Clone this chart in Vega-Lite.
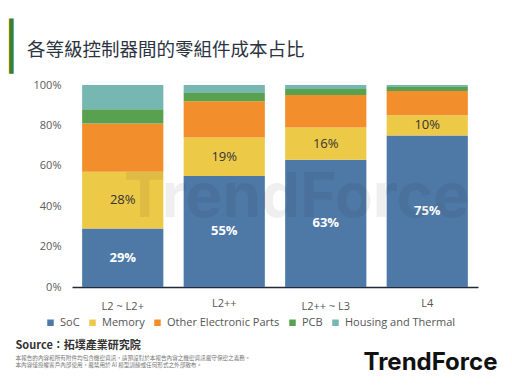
{
  "$schema": "https://vega.github.io/schema/vega-lite/v6.json",
  "width": 406,
  "height": 202,
  "autosize": {"type": "none"},
  "padding": {"left": 72, "top": 85, "right": 34, "bottom": 100},
  "background": "white",
  "title": {
    "text": "各等級控制器間的零組件成本占比",
    "anchor": "start",
    "frame": "group",
    "dx": -45,
    "offset": -35,
    "font": "Noto Sans CJK TC",
    "fontSize": 18.5,
    "fontWeight": "normal",
    "color": "#2b3340"
  },
  "config": {
    "view": {"stroke": null},
    "axis": {"grid": false, "ticks": false}
  },
  "layer": [
    {
      "data": {
        "values": [
          {"cat": "L2 ~ L2+", "part": "SoC", "value": 0.29, "order": 1},
          {"cat": "L2 ~ L2+", "part": "Memory", "value": 0.28, "order": 2},
          {"cat": "L2 ~ L2+", "part": "Other Electronic Parts", "value": 0.24, "order": 3},
          {"cat": "L2 ~ L2+", "part": "PCB", "value": 0.07, "order": 4},
          {"cat": "L2 ~ L2+", "part": "Housing and Thermal", "value": 0.12, "order": 5},
          {"cat": "L2++", "part": "SoC", "value": 0.55, "order": 1},
          {"cat": "L2++", "part": "Memory", "value": 0.19, "order": 2},
          {"cat": "L2++", "part": "Other Electronic Parts", "value": 0.18, "order": 3},
          {"cat": "L2++", "part": "PCB", "value": 0.04, "order": 4},
          {"cat": "L2++", "part": "Housing and Thermal", "value": 0.04, "order": 5},
          {"cat": "L2++ ~ L3", "part": "SoC", "value": 0.63, "order": 1},
          {"cat": "L2++ ~ L3", "part": "Memory", "value": 0.16, "order": 2},
          {"cat": "L2++ ~ L3", "part": "Other Electronic Parts", "value": 0.16, "order": 3},
          {"cat": "L2++ ~ L3", "part": "PCB", "value": 0.03, "order": 4},
          {"cat": "L2++ ~ L3", "part": "Housing and Thermal", "value": 0.02, "order": 5},
          {"cat": "L4", "part": "SoC", "value": 0.75, "order": 1},
          {"cat": "L4", "part": "Memory", "value": 0.10, "order": 2},
          {"cat": "L4", "part": "Other Electronic Parts", "value": 0.12, "order": 3},
          {"cat": "L4", "part": "PCB", "value": 0.02, "order": 4},
          {"cat": "L4", "part": "Housing and Thermal", "value": 0.01, "order": 5}
        ]
      },
      "layer": [
        {
          "mark": {"type": "bar"},
          "encoding": {
            "x": {
              "field": "cat", "type": "nominal",
              "sort": ["L2 ~ L2+", "L2++", "L2++ ~ L3", "L4"],
              "scale": {"paddingInner": 0.2, "paddingOuter": 0.1},
              "axis": {
                "orient": "bottom",
                "labelAngle": 0,
                "labelFont": "Open Sans",
                "labelFontSize": 11,
                "labelColor": "#555555",
                "labelPadding": {"condition": {"test": "indexof(datum.label, '~') >= 0", "value": 13}, "value": 10},
                "domainColor": "#1f2a3a",
                "domainWidth": 1.5,
                "title": "Source：拓墣產業研究院",
                "titleFont": "Noto Sans CJK TC",
                "titleFontSize": 11,
                "titleFontWeight": "bold",
                "titleColor": "#333333",
                "titleX": -57,
                "titleY": 58,
                "titleAlign": "left",
                "titleBaseline": "middle"
              }
            },
            "y": {
              "field": "value", "type": "quantitative", "stack": "zero",
              "scale": {"domain": [0, 1], "nice": false},
              "axis": {
                "orient": "left",
                "format": ".0%",
                "values": [0, 0.2, 0.4, 0.6, 0.8, 1],
                "domain": false,
                "labelFont": "Open Sans",
                "labelFontSize": 11,
                "labelColor": "#5a5a5a",
                "labelPadding": 11,
                "title": "▏",
                "titleFont": "DejaVu Sans",
                "titleFontSize": 46.5,
                "titleColor": "#3f7f25",
                "titleAngle": 0,
                "titleAlign": "left",
                "titleBaseline": "alphabetic",
                "titleX": -63,
                "titleY": -23.5
              }
            },
            "color": {
              "field": "part", "type": "nominal",
              "scale": {
                "domain": ["SoC", "Memory", "Other Electronic Parts", "PCB", "Housing and Thermal"],
                "range": ["#4e79a7", "#edc948", "#f28e2b", "#59a14f", "#76b7b2"]
              },
              "legend": {
                "orient": "none",
                "legendX": -27,
                "legendY": 232,
                "direction": "horizontal",
                "title": null,
                "symbolType": "square",
                "symbolSize": 42,
                "symbolStrokeWidth": 0,
                "labelFont": "Open Sans",
                "labelFontSize": 11,
                "labelColor": "#555555",
                "labelOffset": 4,
                "columnPadding": 7
              }
            },
            "order": {"field": "order", "type": "quantitative"}
          }
        },
        {
          "mark": {"type": "text", "font": "Open Sans", "fontSize": 13, "fontWeight": "bold", "color": "white", "baseline": "middle"},
          "encoding": {
            "x": {"field": "cat", "type": "nominal", "sort": ["L2 ~ L2+", "L2++", "L2++ ~ L3", "L4"]},
            "y": {"field": "value", "type": "quantitative", "stack": "zero", "bandPosition": 0.5},
            "detail": {"field": "part"},
            "order": {"field": "order", "type": "quantitative"},
            "text": {"condition": {"test": "datum.part === 'SoC'", "field": "value", "format": ".0%"}, "value": ""}
          }
        },
        {
          "mark": {"type": "text", "font": "Open Sans", "fontSize": 13, "fontWeight": "normal", "color": "#333333", "baseline": "middle"},
          "encoding": {
            "x": {"field": "cat", "type": "nominal", "sort": ["L2 ~ L2+", "L2++", "L2++ ~ L3", "L4"]},
            "y": {"field": "value", "type": "quantitative", "stack": "zero", "bandPosition": 0.5},
            "detail": {"field": "part"},
            "order": {"field": "order", "type": "quantitative"},
            "text": {"condition": {"test": "datum.part === 'Memory'", "field": "value", "format": ".0%"}, "value": ""}
          }
        }
      ]
    },
    {
      "data": {"values": [{"wx": 0.554, "wy": 0.347, "t": "TrendForce"}]},
      "mark": {"type": "text", "font": "Inter", "fontSize": 62, "fontWeight": "bold", "color": "#000000", "opacity": 0.06, "align": "center", "baseline": "alphabetic"},
      "encoding": {
        "x": {
          "field": "wx", "type": "quantitative",
          "scale": {"domain": [0, 1], "nice": false, "zero": false},
          "axis": {
            "orient": "top", "labels": false, "domain": false, "ticks": false, "grid": false,
            "title": "TrendForce",
            "titleFont": "Inter",
            "titleFontSize": 24,
            "titleFontWeight": "bold",
            "titleColor": "#111111",
            "titleX": 291,
            "titleY": 284,
            "titleAlign": "left",
            "titleBaseline": "alphabetic"
          }
        },
        "y": {
          "field": "wy", "type": "quantitative",
          "scale": {"domain": [0, 1], "nice": false, "zero": false},
          "axis": {
            "orient": "right", "labels": false, "domain": false, "ticks": false, "grid": false,
            "title": ["本報告的內容和所有附件均包含機密資訊，請預設對於本報告內容之機密資訊嚴守保密之義務。", "本內容僅授權客戶內部使用，嚴禁用於 AI 模型訓練或任何形式之外部散布。"],
            "titleFont": "Noto Sans CJK TC",
            "titleFontSize": 5.6,
            "titleFontWeight": "normal",
            "titleColor": "#777777",
            "titleAngle": 0,
            "titleX": -463,
            "titleY": 270,
            "titleAlign": "left",
            "titleBaseline": "top",
            "titleLineHeight": 7
          }
        },
        "text": {"field": "t"}
      }
    }
  ],
  "resolve": {
    "scale": {"x": "independent", "y": "independent"},
    "axis": {"x": "independent", "y": "independent"}
  }
}
